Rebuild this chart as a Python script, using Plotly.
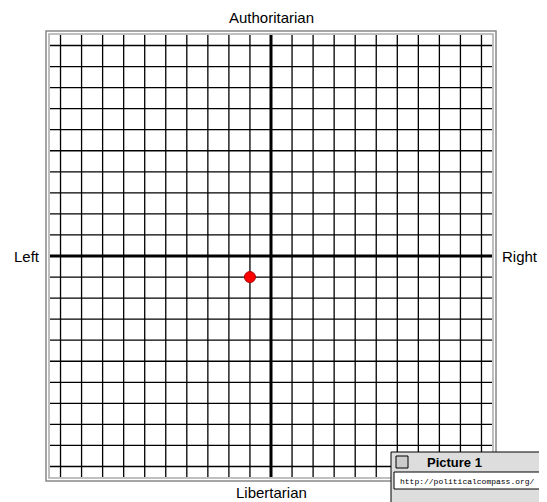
import plotly.graph_objects as go

# compass values
ticks = list(range(-10, 11))
econ = [-1.0]
social = [-1.0]

OFF = 8  # page body margin
FW, FH = 547 - OFF, 502 - OFF
L, T, W, H = 50 - OFF, 35 - OFF, 442, 442
def px(x): return (x - OFF - L) / W
def py(y): return 1 - (y - OFF - T) / H

fig = go.Figure()
shapes = []
for v in ticks:
    w = 3 if v == 0 else 1.3
    shapes.append(dict(type="line", xref="x", yref="paper", x0=v, x1=v, y0=0, y1=1,
                       line=dict(color="black", width=w), layer="below"))
    shapes.append(dict(type="line", xref="paper", yref="y", x0=0, x1=1, y0=v, y1=v,
                       line=dict(color="black", width=w), layer="below"))
# double gray frame
for off, c in [(4, "#888"), (1, "#aaa")]:
    shapes.append(dict(type="rect", xref="paper", yref="paper",
                       x0=px(50 - off), x1=px(492 + off), y0=py(477 + off), y1=py(35 - off),
                       line=dict(color=c, width=1.5)))
# mac window in corner
shapes.append(dict(type="rect", xref="paper", yref="paper", x0=px(391), x1=px(560), y0=py(520), y1=py(452),
                   fillcolor="#dddddd", line=dict(color="black", width=1)))
shapes.append(dict(type="rect", xref="paper", yref="paper", x0=px(394), x1=px(560), y0=py(489), y1=py(472),
                   fillcolor="white", line=dict(color="black", width=1)))
shapes.append(dict(type="rect", xref="paper", yref="paper", x0=px(396), x1=px(408), y0=py(468), y1=py(456),
                   fillcolor="#cccccc", line=dict(color="black", width=1)))

fig.add_trace(go.Scatter(x=econ, y=social, mode="markers",
                         marker=dict(color="red", size=11, line=dict(color="#a00", width=1))))

ann = [
    dict(text="Authoritarian", x=0.5, y=py(18), xanchor="center"),
    dict(text="Libertarian", x=0.5, y=py(492), xanchor="center"),
    dict(text="Left", x=px(42), y=py(256), xanchor="right"),
    dict(text="Right", x=px(500), y=py(256), xanchor="left"),
]
annotations = [dict(a, xref="paper", yref="paper", yanchor="middle", showarrow=False,
                    font=dict(family="Liberation Sans", size=15, color="black")) for a in ann]
annotations.append(dict(text="<b>Picture 1</b>", xref="paper", yref="paper", x=px(484), y=py(462),
                        yanchor="middle", showarrow=False,
                        font=dict(family="Liberation Sans", size=13, color="black")))
annotations.append(dict(text="http://politicalcompass.org/", xref="paper", yref="paper", x=px(398), y=py(481),
                        xanchor="left", yanchor="middle", showarrow=False,
                        font=dict(family="Liberation Mono", size=8, color="black")))

fig.update_layout(
    width=FW, height=FH, margin=dict(l=L, r=FW - L - W, t=T, b=FH - T - H),
    paper_bgcolor="white", plot_bgcolor="white", showlegend=False,
    xaxis=dict(range=[-10.5, 10.5], showgrid=False, zeroline=False, showticklabels=False, fixedrange=True),
    yaxis=dict(range=[-10.5, 10.5], showgrid=False, zeroline=False, showticklabels=False, fixedrange=True),
    shapes=shapes, annotations=annotations,
)
fig.write_html("out.html", config={"displayModeBar": False})
